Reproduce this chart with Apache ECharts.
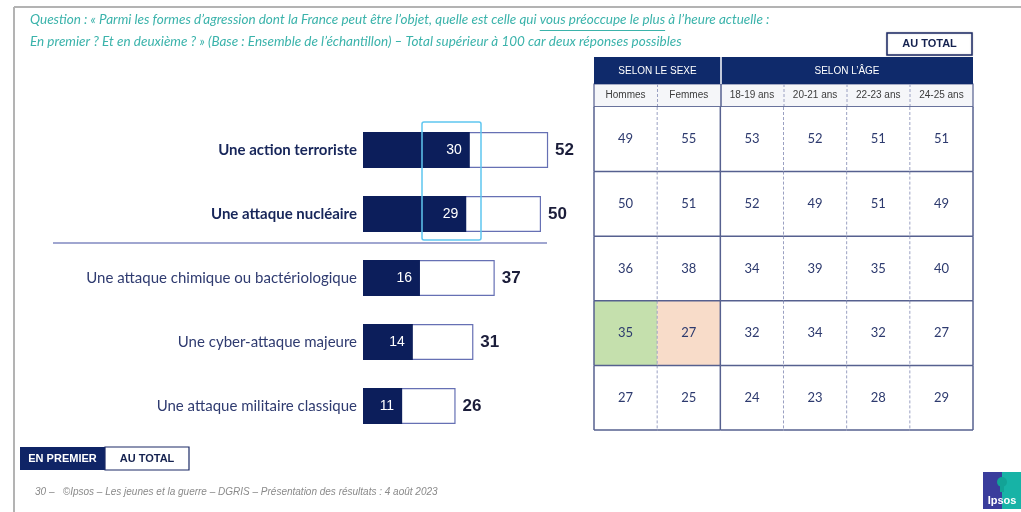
<!DOCTYPE html>
<html>
<head>
<meta charset="utf-8">
<script src="https://cdn.jsdelivr.net/npm/echarts@6/dist/echarts.min.js"></script>
<style>
  html, body { margin: 0; padding: 0; background: #fff; }
  #chart { width: 1021px; height: 512px; }
</style>
</head>
<body>
<div id="chart"></div>
<script>
// formes d'agression
const categories = [
  "Une action terroriste",
  "Une attaque nucléaire",
  "Une attaque chimique ou bactériologique",
  "Une cyber-attaque majeure",
  "Une attaque militaire classique"
];
const enPremier = [30, 29, 16, 14, 11];
const auTotal = [52, 50, 37, 31, 26];

// tableau "au total" par sexe et par âge
const columns = ["Hommes", "Femmes", "18-19 ans", "20-21 ans", "22-23 ans", "24-25 ans"];
const hommes = [49, 50, 36, 35, 27];
const femmes = [55, 51, 38, 27, 25];
const ans1819 = [53, 52, 34, 32, 24];
const ans2021 = [52, 49, 39, 34, 23];
const ans2223 = [51, 51, 35, 32, 28];
const ans2425 = [51, 49, 40, 27, 29];
// écarts significatifs : [colonne, ligne, sens]
const significant = [[0, 3, "up"], [1, 3, "down"]];

const NAVY = "#0c1e5b";
const TEXT = "#2d3a6e";
const TEAL = "#3bb3ab";
const Q_FONT = "italic 13.5px Lato";

const q1a = "Question : « Parmi les formes d’agression dont la France peut être l’objet, quelle est celle qui ";
const q1b = "vous préoccupe le plus";
const q1c = " à l’heure actuelle :";
const q2 = "En premier ? Et en deuxième ? » (Base : Ensemble de l’échantillon) – Total supérieur à 100 car deux réponses possibles";

// position du soulignement
const ctx = document.createElement("canvas").getContext("2d");
ctx.font = Q_FONT;
const ulStart = 30 + ctx.measureText(q1a).width;
const ulEnd = ulStart + ctx.measureText(q1b).width;

const tableCols = [hommes, femmes, ans1819, ans2021, ans2223, ans2425];
const tableData = [];
tableCols.forEach((col, c) => {
  col.forEach((v, r) => tableData.push([c, r, v]));
});

function cellFill(c, r) {
  const s = significant.find((d) => d[0] === c && d[1] === r);
  if (!s) return "#fff";
  return s[2] === "up" ? "#c5e0ad" : "#f8dcc9";
}

const chart = echarts.init(document.getElementById("chart"));

chart.setOption({
  animation: false,
  backgroundColor: "#fff",
  grid: [
    { left: 363, top: 118, width: 356, height: 320 },
    { left: 594, top: 107, width: 379, height: 323 }
  ],
  xAxis: [
    { gridIndex: 0, type: "value", min: 0, max: 100, show: false },
    {
      gridIndex: 1,
      type: "category",
      data: columns,
      position: "top",
      axisLine: { show: false },
      axisTick: { show: false },
      axisLabel: {
        interval: 0,
        margin: 7,
        fontSize: 10,
        color: "#3c3c3c",
        fontFamily: "Liberation Sans Narrow, Liberation Sans"
      }
    }
  ],
  yAxis: [
    {
      gridIndex: 0,
      type: "category",
      data: categories,
      inverse: true,
      axisLine: { show: false },
      axisTick: { show: false },
      axisLabel: {
        interval: 0,
        margin: 6,
        formatter: (v, i) => (i < 2 ? "{b|" + v + "}" : "{n|" + v + "}"),
        rich: {
          b: { fontFamily: "Lato", fontSize: 15, fontWeight: "bold", color: "#17265a" },
          n: { fontFamily: "Lato", fontSize: 15, color: "#2f3b70" }
        }
      }
    },
    {
      gridIndex: 1,
      type: "category",
      data: categories,
      inverse: true,
      show: false
    }
  ],
  series: [
    {
      name: "Au total",
      type: "bar",
      xAxisIndex: 0,
      yAxisIndex: 0,
      data: auTotal,
      barWidth: 36,
      itemStyle: { color: "#fff", borderColor: "#6670b4", borderWidth: 1.2 },
      label: {
        show: true,
        position: "right",
        distance: 7,
        fontFamily: "Liberation Sans",
        fontWeight: "bold",
        fontSize: 17,
        color: "#1b1d3a"
      }
    },
    {
      name: "En premier",
      type: "bar",
      xAxisIndex: 0,
      yAxisIndex: 0,
      data: enPremier,
      barWidth: 36,
      barGap: "-100%",
      itemStyle: { color: NAVY },
      label: {
        show: true,
        position: "insideRight",
        distance: 8,
        fontFamily: "Liberation Sans",
        fontSize: 14,
        color: "#fff"
      }
    },
    {
      name: "Tableau",
      type: "custom",
      xAxisIndex: 1,
      yAxisIndex: 1,
      data: tableData,
      renderItem(params, api) {
        const col = api.value(0);
        const row = api.value(1);
        const c = api.coord([col, row]);
        const s = api.size([1, 1]);
        const x0 = c[0] - s[0] / 2;
        const y0 = c[1] - s[1] / 2;
        const solidRight = col === 1 || col === 5;
        const children = [
          { type: "rect", shape: { x: x0, y: y0, width: s[0], height: s[1] }, style: { fill: cellFill(col, row) } },
          {
            type: "text",
            z2: 5,
            style: {
              text: String(api.value(2)),
              x: c[0],
              y: c[1],
              align: "center",
              verticalAlign: "middle",
              fill: TEXT,
              font: "13px Lato"
            }
          },
          {
            type: "line",
            z2: solidRight ? 12 : 10,
            shape: { x1: x0 + s[0], y1: y0, x2: x0 + s[0], y2: y0 + s[1] },
            style: solidRight
              ? { stroke: "#56608f", lineWidth: 1.5 }
              : { stroke: "#9aa0c2", lineWidth: 1, lineDash: [3, 2] }
          },
          {
            type: "line",
            z2: 12,
            shape: { x1: x0, y1: y0 + s[1], x2: x0 + s[0], y2: y0 + s[1] },
            style: { stroke: "#56608f", lineWidth: 1.5 }
          }
        ];
        if (col === 0) {
          children.push({
            type: "line",
            z2: 12,
            shape: { x1: x0, y1: y0, x2: x0, y2: y0 + s[1] },
            style: { stroke: "#56608f", lineWidth: 1.5 }
          });
        }
        return { type: "group", children };
      }
    }
  ],
  graphic: [
    // cadre
    { type: "line", shape: { x1: 14, y1: 7, x2: 1021, y2: 7 }, style: { stroke: "#b3b3b3", lineWidth: 2 } },
    { type: "line", shape: { x1: 14, y1: 7, x2: 14, y2: 512 }, style: { stroke: "#b3b3b3", lineWidth: 2 } },
    // question
    {
      type: "text",
      left: 30,
      top: 13,
      style: { text: q1a + q1b + q1c, font: Q_FONT, fill: TEAL }
    },
    {
      type: "text",
      left: 30,
      top: 35,
      style: { text: q2, font: Q_FONT, fill: TEAL }
    },
    { type: "line", shape: { x1: ulStart, y1: 30.5, x2: ulEnd, y2: 30.5 }, style: { stroke: TEAL, lineWidth: 1 } },
    // séparateur et mise en valeur
    { type: "line", shape: { x1: 53, y1: 243, x2: 547, y2: 243 }, style: { stroke: "#8088c0", lineWidth: 1.5 } },
    {
      type: "rect",
      z: 50,
      shape: { x: 422, y: 122, width: 59, height: 118, r: 2 },
      style: { fill: "none", stroke: "#5fc6f0", lineWidth: 1.5 }
    },
    // en-tête du tableau
    {
      type: "rect",
      shape: { x: 887, y: 33, width: 85, height: 22 },
      style: { fill: "#fff", stroke: "#1c2a66", lineWidth: 1.5, shadowBlur: 2, shadowColor: "rgba(0,0,0,0.2)" }
    },
    {
      type: "text",
      x: 929.5,
      y: 44,
      style: { text: "AU TOTAL", align: "center", verticalAlign: "middle", font: "bold 11px Liberation Sans Narrow, Liberation Sans", fill: "#14214f" }
    },
    { type: "rect", shape: { x: 594, y: 57, width: 379, height: 27 }, style: { fill: "#0f2a6b" } },
    { type: "line", shape: { x1: 721, y1: 57, x2: 721, y2: 84 }, style: { stroke: "#fff", lineWidth: 1.5 } },
    {
      type: "text",
      x: 657.5,
      y: 71,
      style: { text: "SELON LE SEXE", align: "center", verticalAlign: "middle", font: "10px Liberation Sans Narrow, Liberation Sans", fill: "#fff" }
    },
    {
      type: "text",
      x: 847,
      y: 71,
      style: { text: "SELON L’ÂGE", align: "center", verticalAlign: "middle", font: "10px Liberation Sans Narrow, Liberation Sans", fill: "#fff" }
    },
    {
      type: "rect",
      z: -1,
      shape: { x: 594, y: 84, width: 379, height: 23 },
      style: { fill: "#f5f6f9", stroke: "#56608f", lineWidth: 1.2 }
    },
    { type: "line", z: -1, shape: { x1: 721, y1: 84, x2: 721, y2: 107 }, style: { stroke: "#56608f", lineWidth: 1.5 } },
    { type: "line", z: -1, shape: { x1: 657.5, y1: 84, x2: 657.5, y2: 107 }, style: { stroke: "#9aa0c2", lineDash: [3, 2] } },
    { type: "line", z: -1, shape: { x1: 784, y1: 84, x2: 784, y2: 107 }, style: { stroke: "#9aa0c2", lineDash: [3, 2] } },
    { type: "line", z: -1, shape: { x1: 847, y1: 84, x2: 847, y2: 107 }, style: { stroke: "#9aa0c2", lineDash: [3, 2] } },
    { type: "line", z: -1, shape: { x1: 910, y1: 84, x2: 910, y2: 107 }, style: { stroke: "#9aa0c2", lineDash: [3, 2] } },
    { type: "line", shape: { x1: 594, y1: 107, x2: 973, y2: 107 }, style: { stroke: "#56608f", lineWidth: 1.5 } },
    // onglets en bas
    { type: "rect", shape: { x: 20, y: 447, width: 85, height: 23 }, style: { fill: "#0f2466" } },
    {
      type: "rect",
      shape: { x: 105, y: 447, width: 84, height: 23 },
      style: { fill: "#fff", stroke: "#1c2a66", lineWidth: 1.2 }
    },
    {
      type: "text",
      x: 62.5,
      y: 458.5,
      style: { text: "EN PREMIER", align: "center", verticalAlign: "middle", font: "bold 11px Liberation Sans Narrow, Liberation Sans", fill: "#fff" }
    },
    {
      type: "text",
      x: 147,
      y: 458.5,
      style: { text: "AU TOTAL", align: "center", verticalAlign: "middle", font: "bold 11px Liberation Sans Narrow, Liberation Sans", fill: "#14214f" }
    },
    // pied de page
    {
      type: "text",
      left: 35,
      top: 487,
      style: {
        text: "30 –   ©Ipsos – Les jeunes et la guerre – DGRIS – Présentation des résultats : 4 août 2023",
        font: "italic 10px Liberation Sans",
        fill: "#8a8a8a"
      }
    },
    // logo
    {
      type: "group",
      x: 983,
      y: 472,
      children: [
        { type: "rect", shape: { x: 0, y: 0, width: 19, height: 37 }, style: { fill: "#3a3d9c" } },
        { type: "rect", shape: { x: 19, y: 0, width: 19, height: 37 }, style: { fill: "#17b3a6" } },
        { type: "circle", shape: { cx: 19, cy: 10, r: 5 }, style: { fill: "#12a396" } },
        { type: "rect", shape: { x: 17, y: 14, width: 4, height: 6 }, style: { fill: "#12a396" } },
        {
          type: "text",
          style: { text: "Ipsos", x: 19, y: 29, align: "center", verticalAlign: "middle", font: "bold 11px Liberation Sans", fill: "#fff" }
        }
      ]
    }
  ]
});
</script>
</body>
</html>
